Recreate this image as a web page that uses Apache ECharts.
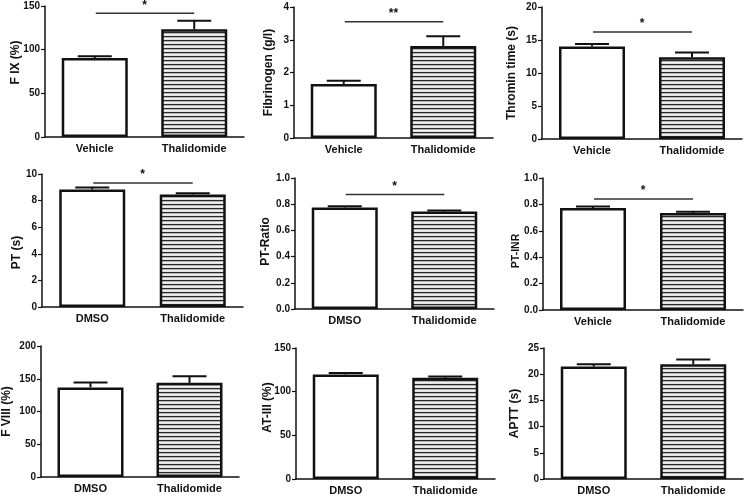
<!DOCTYPE html>
<html>
<head>
<meta charset="utf-8">
<script src="https://cdn.jsdelivr.net/npm/echarts@6/dist/echarts.min.js"></script>
<style>
html,body{margin:0;padding:0;background:#fff;}
#c{width:745px;height:496px;}
</style>
</head>
<body>
<div id="c"></div>
<script>
// ---------- data ----------
const catsVehicle = ['Vehicle', 'Thalidomide'];
const catsDMSO = ['DMSO', 'Thalidomide'];
const panelCats = [catsVehicle, catsVehicle, catsVehicle, catsDMSO, catsDMSO, catsVehicle, catsDMSO, catsDMSO, catsDMSO];
const yNames = ['F IX (%)', 'Fibrinogen (g/l)', 'Thromin time (s)', 'PT (s)', 'PT-Ratio', 'PT-INR', 'F VIII (%)', 'AT-III (%)', 'APTT (s)'];

const fixMean = [90.4, 123.3],  fixErr = [2.1, 9.7];
const fibMean = [1.65, 2.81],   fibErr = [0.10, 0.30];
const ttMean  = [14.0, 12.4],   ttErr  = [0.4, 0.7];
const ptMean  = [8.84, 8.46],   ptErr  = [0.15, 0.10];
const ptrMean = [0.775, 0.744], ptrErr = [0.010, 0.008];
const inrMean = [0.772, 0.735], inrErr = [0.013, 0.010];
const f8Mean  = [136.8, 143.8], f8Err  = [7.6, 10.2];
const at3Mean = [119.7, 115.8], at3Err = [1.8, 1.6];
const apttMean= [21.45, 21.9],  apttErr= [0.45, 0.9];

const means = [fixMean, fibMean, ttMean, ptMean, ptrMean, inrMean, f8Mean, at3Mean, apttMean];
const errs  = [fixErr, fibErr, ttErr, ptErr, ptrErr, inrErr, f8Err, at3Err, apttErr];

const yMax      = [150, 4, 20, 10, 1.0, 1.0, 200, 150, 25];
const yInterval = [50, 1, 5, 2, 0.2, 0.2, 50, 50, 5];
const yDecimals = [0, 0, 0, 0, 1, 1, 0, 0, 0];

const sigLabel  = ['*', '**', '*', '*', '*', '*', '', '', ''];
const sigY      = [141.6, 3.55, 16.2, 9.32, 0.874, 0.84, null, null, null];

// ---------- layout ----------
const grids = [
  {left: 45,  top: 6,   width: 199, height: 131},
  {left: 294, top: 7,   width: 199, height: 131},
  {left: 542, top: 7,   width: 200, height: 132},
  {left: 42,  top: 174, width: 201, height: 133},
  {left: 295, top: 178, width: 199, height: 131},
  {left: 543, top: 178, width: 200, height: 132},
  {left: 41,  top: 346, width: 198, height: 131},
  {left: 296, top: 348, width: 199, height: 131},
  {left: 544, top: 348, width: 199, height: 132}
];
const nameGaps = [23, 19, 24, 19, 23, 21, 28, 22, 23];
const nameSizes = [12, 12, 12, 12, 12, 10.5, 12, 12, 12];
const nameShift = [9, 0, 0, -12, 2, -7, 0, 6, 0]; // px, positive = up

// hatch pattern
const pc = document.createElement('canvas');
pc.width = 8; pc.height = 4;
const pctx = pc.getContext('2d');
const rows = ['#2a2a2a', '#b0b0b0', '#f4f4f4', '#e0e0e0'];
rows.forEach((col, i) => { pctx.fillStyle = col; pctx.fillRect(0, i, 8, 1); });

const FONT = 'Liberation Sans, Arial, sans-serif';
const chart = echarts.init(document.getElementById('c'), null, {renderer: 'canvas'});

const xAxes = [], yAxes = [], series = [];
grids.forEach((g, i) => {
  const s = nameShift[i];
  xAxes.push({
    type: 'category', gridIndex: i, data: panelCats[i],
    axisLine: {lineStyle: {color: '#111', width: 1.5}},
    axisTick: {alignWithLabel: true, length: 4, lineStyle: {color: '#111', width: 1.2}},
    axisLabel: {color: '#111', fontWeight: 'bold', fontSize: 11, fontFamily: FONT, margin: 6}
  });
  yAxes.push({
    type: 'value', gridIndex: i, min: 0, max: yMax[i], interval: yInterval[i],
    name: yNames[i], nameLocation: 'middle', nameGap: nameGaps[i], nameRotate: 90,
    nameMoveOverlap: false,
    nameTextStyle: {color: '#111', fontWeight: 'bold', fontSize: nameSizes[i], fontFamily: FONT,
      padding: s >= 0 ? [0, 0, 0, 2 * s] : [0, -2 * s, 0, 0]},
    axisLine: {show: true, lineStyle: {color: '#111', width: 1.5}},
    axisTick: {show: true, length: 4, lineStyle: {color: '#111', width: 1.2}},
    splitLine: {show: false},
    axisLabel: {color: '#111', fontWeight: 'bold', fontSize: 10, fontFamily: FONT, margin: 5,
      formatter: v => v.toFixed(yDecimals[i])}
  });
  series.push({
    type: 'bar', xAxisIndex: i, yAxisIndex: i, barWidth: 66, silent: true,
    data: means[i].map((v, k) => ({
      value: v,
      itemStyle: k === 0 ? {color: '#fff', borderColor: '#111', borderWidth: 2.5}
                         : {color: {image: pc, repeat: 'repeat'}, borderColor: '#111', borderWidth: 2.5}
    }))
  });
  series.push({
    type: 'custom', xAxisIndex: i, yAxisIndex: i, silent: true, z: 5,
    data: means[i].map((v, k) => [k, v, v + errs[i][k]]),
    renderItem: (params, api) => {
      const p0 = api.coord([api.value(0), api.value(1)]);
      const p1 = api.coord([api.value(0), api.value(2)]);
      return {type: 'group', children: [
        {type: 'line', shape: {x1: p0[0], y1: p0[1], x2: p1[0], y2: p1[1]}, style: {stroke: '#111', lineWidth: 2}},
        {type: 'line', shape: {x1: p1[0] - 17, y1: p1[1], x2: p1[0] + 17, y2: p1[1]}, style: {stroke: '#111', lineWidth: 2}}
      ]};
    }
  });
  if (sigLabel[i]) {
    series.push({
      type: 'custom', xAxisIndex: i, yAxisIndex: i, silent: true, z: 5,
      data: [[0, 1, sigY[i]]],
      renderItem: (params, api) => {
        const a = api.coord([api.value(0), api.value(2)]);
        const b = api.coord([api.value(1), api.value(2)]);
        return {type: 'group', children: [
          {type: 'line', shape: {x1: a[0] + 1, y1: a[1], x2: b[0], y2: b[1]}, style: {stroke: '#333', lineWidth: 1.5}},
          {type: 'text', x: (a[0] + b[0]) / 2, y: a[1] - 2,
           style: {text: sigLabel[i], fill: '#111', font: 'bold 12px ' + FONT, align: 'center', verticalAlign: 'bottom'}}
        ]};
      }
    });
  }
});

chart.setOption({
  animation: false,
  backgroundColor: '#fff',
  grid: grids.map(g => Object.assign({containLabel: false}, g)),
  xAxis: xAxes,
  yAxis: yAxes,
  series: series
});
</script>
</body>
</html>
